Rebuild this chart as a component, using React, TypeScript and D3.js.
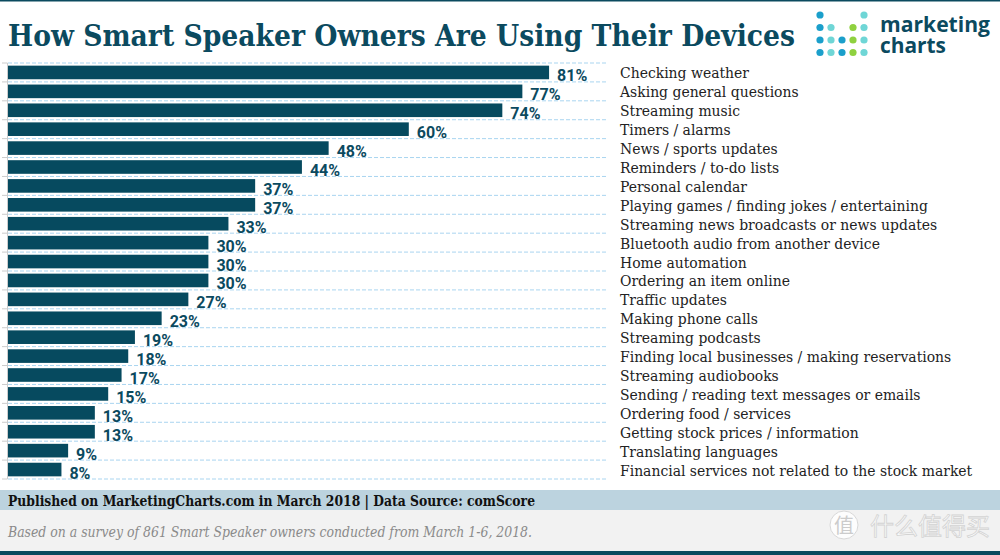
import { useEffect, useRef } from "react";
import * as d3 from "d3";

// chart data
const categories = [
  "Checking weather",
  "Asking general questions",
  "Streaming music",
  "Timers / alarms",
  "News / sports updates",
  "Reminders / to-do lists",
  "Personal calendar",
  "Playing games / finding jokes / entertaining",
  "Streaming news broadcasts or news updates",
  "Bluetooth audio from another device",
  "Home automation",
  "Ordering an item online",
  "Traffic updates",
  "Making phone calls",
  "Streaming podcasts",
  "Finding local businesses / making reservations",
  "Streaming audiobooks",
  "Sending / reading text messages or emails",
  "Ordering food / services",
  "Getting stock prices / information",
  "Translating languages",
  "Financial services not related to the stock market",
];
const values = [81, 77, 74, 60, 48, 44, 37, 37, 33, 30, 30, 30, 27, 23, 19, 18, 17, 15, 13, 13, 9, 8];

const title = "How Smart Speaker Owners Are Using Their Devices";
const sourceLine = "Published on MarketingCharts.com in March 2018 | Data Source: comScore";
const noteLine = "Based on a survey of 861 Smart Speaker owners conducted from March 1-6, 2018.";

const W = 1000;
const H = 555;
const DARK = "#0b4a5f";
const SERIF = "'Roboto Slab', 'DejaVu Serif', serif";

const App = () => {
  const ref = useRef<SVGSVGElement>(null);

  useEffect(() => {
    const svg = d3.select(ref.current);
    svg.selectAll("*").remove();

    svg.append("rect").attr("width", W).attr("height", H).attr("fill", "#fff");
    svg.append("rect").attr("width", W).attr("height", 1.5).attr("fill", DARK);

    // title
    svg.append("text")
      .attr("x", 8).attr("y", 46)
      .attr("textLength", 787).attr("lengthAdjust", "spacingAndGlyphs")
      .attr("font-family", SERIF).attr("font-weight", 700).attr("font-size", 30)
      .attr("fill", DARK)
      .text(title);

    // logo dots
    const dotCols = [820, 831, 842, 853, 864];
    const dotRows = [15, 27.5, 40, 52.5];
    const blue = "#1b9fcb", teal = "#6fd6d6", green = "#8fd13f";
    const dots: [number, number, string][] = [
      [0, 0, blue], [4, 0, teal],
      [0, 1, blue], [1, 1, teal], [3, 1, green], [4, 1, teal],
      [0, 2, blue], [1, 2, teal], [2, 2, blue], [3, 2, green], [4, 2, teal],
      [0, 3, blue], [1, 3, teal], [2, 3, blue], [3, 3, green], [4, 3, teal],
    ];
    svg.append("g").selectAll("circle").data(dots).enter().append("circle")
      .attr("cx", d => dotCols[d[0]]).attr("cy", d => dotRows[d[1]])
      .attr("r", 3.6).attr("fill", d => d[2]);
    const logo = svg.append("g")
      .attr("font-family", "'Open Sans', 'Noto Sans', sans-serif")
      .attr("font-weight", 700).attr("font-size", 22).attr("fill", DARK);
    logo.append("text").attr("x", 880).attr("y", 32)
      .attr("textLength", 110).attr("lengthAdjust", "spacingAndGlyphs").text("marketing");
    logo.append("text").attr("x", 880).attr("y", 53)
      .attr("textLength", 66).attr("lengthAdjust", "spacingAndGlyphs").text("charts");

    // scales
    const x = d3.scaleLinear().domain([0, 100]).range([8, 676]);
    const y = d3.scaleBand().domain(categories).range([63, 479]).paddingInner(0.28).paddingOuter(0.14);
    const step = y.step();
    const gridYs = d3.range(categories.length + 1).map(i => 63 + i * step);

    // gridlines
    svg.append("g").selectAll("line").data(gridYs).enter().append("line")
      .attr("x1", 8).attr("x2", 608)
      .attr("y1", d => d).attr("y2", d => d)
      .attr("stroke", "#a9d5f0").attr("stroke-width", 1).attr("stroke-dasharray", "4,2");

    // left axis line + ticks
    svg.append("line").attr("x1", 7.5).attr("x2", 7.5).attr("y1", 63).attr("y2", 479)
      .attr("stroke", "#cccccc");
    svg.append("g").selectAll("line").data(gridYs).enter().append("line")
      .attr("x1", 2).attr("x2", 7.5)
      .attr("y1", d => d).attr("y2", d => d)
      .attr("stroke", "#cccccc");

    // bars
    svg.append("g").selectAll("rect").data(values).enter().append("rect")
      .attr("x", x(0))
      .attr("y", (d, i) => y(categories[i]) ?? 0)
      .attr("width", d => x(d) - x(0))
      .attr("height", y.bandwidth())
      .attr("fill", "#064a5f");

    // value labels
    svg.append("g").selectAll("text").data(values).enter().append("text")
      .attr("x", d => x(d) + 8)
      .attr("y", (d, i) => (y(categories[i]) ?? 0) + y.bandwidth() / 2 + 9)
      .attr("font-family", "Roboto, sans-serif").attr("font-weight", 700).attr("font-size", 16)
      .attr("fill", DARK)
      .text(d => d + "%");

    // category labels
    svg.append("g").selectAll("text").data(categories).enter().append("text")
      .attr("x", 620)
      .attr("y", d => (y(d) ?? 0) + y.bandwidth() / 2 + 6)
      .attr("font-family", SERIF).attr("font-size", 15.5).attr("font-stretch", "condensed")
      .attr("fill", "#222")
      .text(d => d);

    // footer
    svg.append("rect").attr("x", 0).attr("y", 490).attr("width", W).attr("height", 20).attr("fill", "#bcd3df");
    svg.append("rect").attr("x", 0).attr("y", 510).attr("width", W).attr("height", 41).attr("fill", "#f2f2f2");
    svg.append("rect").attr("x", 0).attr("y", 551).attr("width", W).attr("height", 4).attr("fill", DARK);
    svg.append("text").attr("x", 8).attr("y", 506)
      .attr("textLength", 527).attr("lengthAdjust", "spacingAndGlyphs")
      .attr("font-family", SERIF).attr("font-weight", 700).attr("font-size", 15)
      .attr("fill", "#111").text(sourceLine);
    svg.append("text").attr("x", 8).attr("y", 537)
      .attr("textLength", 524).attr("lengthAdjust", "spacingAndGlyphs")
      .attr("font-family", SERIF).attr("font-style", "italic").attr("font-size", 14)
      .attr("fill", "#8a8a8a").text(noteLine);

    // watermark
    const wm = svg.append("g").attr("opacity", 0.9);
    wm.append("circle").attr("cx", 844).attr("cy", 525).attr("r", 14)
      .attr("fill", "#fff").attr("stroke", "#d6d6d6");
    wm.append("text").attr("x", 844).attr("y", 533).attr("text-anchor", "middle")
      .attr("font-family", "'Noto Sans CJK SC', sans-serif").attr("font-size", 20)
      .attr("fill", "#c8c8c8").text("值");
    wm.append("text").attr("x", 870).attr("y", 535)
      .attr("font-family", "'Noto Sans CJK SC', sans-serif").attr("font-size", 24)
      .attr("fill", "#fbfbfb").attr("stroke", "#d0d0d0").attr("stroke-width", 0.8)
      .text("什么值得买");
  }, []);

  return (
    <svg ref={ref} width={W} height={H} style={{ position: "absolute", left: 0, top: 0 }} />
  );
};

export default App;
